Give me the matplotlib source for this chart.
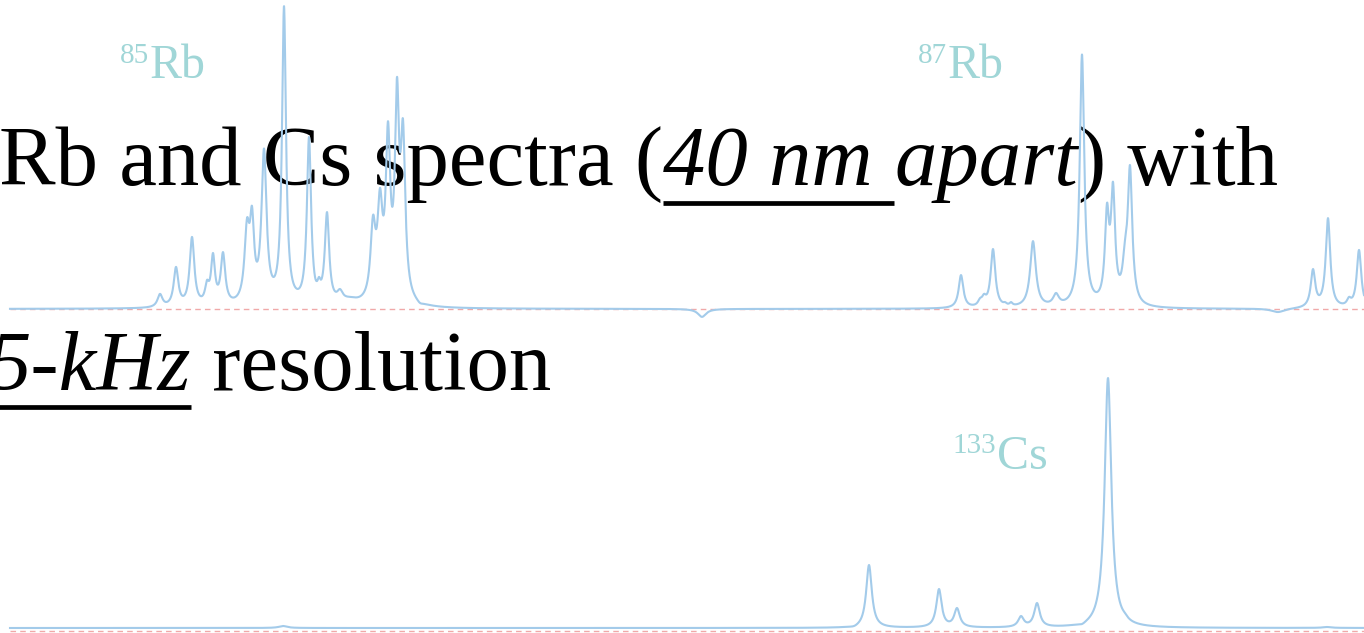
import numpy as np
import matplotlib
matplotlib.use("Agg")
import matplotlib.pyplot as plt

W, H, DPI = 1364, 633, 100

# ---------------- data (frequency axis in GHz, relative) ----------------
# Rb spectrum: peak centres, peak intensities (rel. to strongest), half widths
rb_centers = [1.60, 1.76, 1.92, 2.07, 2.13, 2.23, 2.47, 2.52, 2.64, 2.84, 2.96,
              3.09, 3.15, 3.19, 3.27, 3.40, 3.50, 3.73, 3.80, 3.88, 3.97, 4.03,
              4.20, 4.30, 7.02, 9.61, 9.80, 9.84, 9.93, 10.05, 10.11, 10.33,
              10.56, 10.82, 11.07, 11.13, 11.25, 11.30, 12.78, 13.13, 13.28,
              13.49, 13.59]
rb_heights = [0.05, 0.139, 0.238, 0.096, 0.185, 0.188, 0.30, 0.34, 0.53, 1.00, 0.069,
              0.568, 0.106, 0.106, 0.32, 0.066, 0.04, 0.31, 0.40, 0.62, 0.766, 0.627,
              0.02, 0.013, -0.026, 0.112, 0.036, 0.05, 0.198, 0.023, 0.023, 0.224,
              0.053, 0.84, 0.35, 0.42, 0.228, 0.475, -0.01, 0.132, 0.30,
              0.04, 0.195]
rb_widths = [0.03, 0.028, 0.028, 0.024, 0.024, 0.027, 0.03, 0.025, 0.03, 0.024, 0.025,
             0.025, 0.018, 0.018, 0.026, 0.035, 0.10, 0.03, 0.03, 0.027, 0.025, 0.027,
             0.035, 0.035, 0.05, 0.028, 0.025, 0.025, 0.028, 0.018, 0.018, 0.034,
             0.035, 0.027, 0.025, 0.025, 0.03, 0.027, 0.08, 0.027, 0.027,
             0.025, 0.027]

# Cs spectrum
cs_centers = [2.83, 8.54, 8.69, 9.39, 9.57, 10.21, 10.37, 10.82, 11.08, 11.25, 13.27]
cs_heights = [0.008, 0.008, 0.252, 0.156, 0.08, 0.048, 0.10, 0.016, 1.00, 0.06, 0.004]
cs_widths = [0.05, 0.05, 0.034, 0.032, 0.034, 0.034, 0.034, 0.045, 0.04, 0.034, 0.05]
cs_offset = 0.012

freq_range = (0.10, 13.64)

labels = [("85", "Rb"), ("87", "Rb"), ("133", "Cs")]

title_line1 = [("Rb and Cs spectra (", "normal", False),
               ("40 nm ", "italic", True),
               ("apart", "italic", False),
               (")", "normal", False),
               (" with", "normal", False)]
title_line2 = [("5-kHz", "italic", True),
               (" resolution", "normal", False)]

# ---------------- styling ----------------
LINE_C = "#a3cbea"
DASH_C = "#f0a9a9"
LABEL_C = "#a0d6d7"
SERIF = ["Liberation Serif", "DejaVu Serif"]


def spectrum(x, centers, heights, widths):
    c = np.asarray(centers); h = np.asarray(heights); w = np.asarray(widths)
    # amplitudes chosen so that the summed curve passes through the read peak tops
    A = 1.0 / (1.0 + ((c[:, None] - c[None, :]) / w[None, :]) ** 2)
    amp = np.linalg.solve(A, h)
    return (amp[None, :] / (1.0 + ((x[:, None] - c[None, :]) / w[None, :]) ** 2)).sum(axis=1)


fig = plt.figure(figsize=(W / DPI, H / DPI), dpi=DPI)
fig.patch.set_facecolor("white")


def frac_rect(top_px, bot_px):
    return [0, 1 - bot_px / H, 1, (bot_px - top_px) / H]


x = np.linspace(freq_range[0], freq_range[1], 8000)

# top panel (Rb)
ax1 = fig.add_axes(frac_rect(0, 320))
scale1 = 303.0
ax1.set_xlim(0, 13.64)
ax1.set_ylim(-(320 - 309) / scale1, 309 / scale1)
ax1.plot(freq_range, [0, 0], color=DASH_C, lw=1.0, ls=(0, (4, 3)), zorder=1)
ax1.plot(x, spectrum(x, rb_centers, rb_heights, rb_widths), color=LINE_C, lw=1.5, zorder=2)

# bottom panel (Cs)
ax2 = fig.add_axes(frac_rect(320, 633))
scale2 = 250.0
ax2.set_xlim(0, 13.64)
ax2.set_ylim(-(633 - 631) / scale2, (631 - 320) / scale2)
ax2.plot(freq_range, [0, 0], color=DASH_C, lw=1.0, ls=(0, (4, 3)), zorder=1)
ax2.plot(x, cs_offset + spectrum(x, cs_centers, cs_heights, cs_widths), color=LINE_C, lw=1.5, zorder=2)

for ax in (ax1, ax2):
    ax.axis("off")
    ax.set_zorder(5)
    ax.patch.set_alpha(0)

renderer = fig.canvas.get_renderer()


def P(xp, yp):
    return xp / W, 1 - yp / H


def text_width(s, size, style):
    t = fig.text(0, 0, s.replace(" ", "\u00a0"), fontsize=size, family=SERIF, style=style)
    w = t.get_window_extent(renderer).width
    t.remove()
    return w


# isotope labels
label_pos = [(150, 78, 63), (948, 78, 63), (997, 469, 453)]
for (iso, el), (xp, yb, ysup) in zip(labels, label_pos):
    fig.text(*P(xp, yb), el, fontsize=34.5, family=SERIF, color=LABEL_C, va="baseline", ha="left", zorder=1)
    fig.text(*P(xp - 1, ysup), iso, fontsize=21, family=SERIF, color=LABEL_C, va="baseline", ha="right", zorder=1)


def run(segments, x0, yb, size, uy):
    xc = x0
    for s, style, ul in segments:
        w = text_width(s, size, style)
        fig.text(*P(xc, yb), s.replace(" ", "\u00a0"), fontsize=size, family=SERIF, style=style,
                 va="baseline", ha="left", color="black", zorder=1)
        if ul:
            fig.add_artist(plt.Line2D([xc / W, (xc + w) / W], [1 - uy / H, 1 - uy / H],
                                      color="black", lw=3.4, solid_capstyle="butt", zorder=1))
        xc += w


FS = 61
run(title_line1, -1, 185, FS, 203)
w2 = text_width(title_line2[0][0], FS, "italic")
run(title_line2, 191 - w2, 390, FS, 407)

fig.savefig("out.png", dpi=DPI, facecolor="white")
